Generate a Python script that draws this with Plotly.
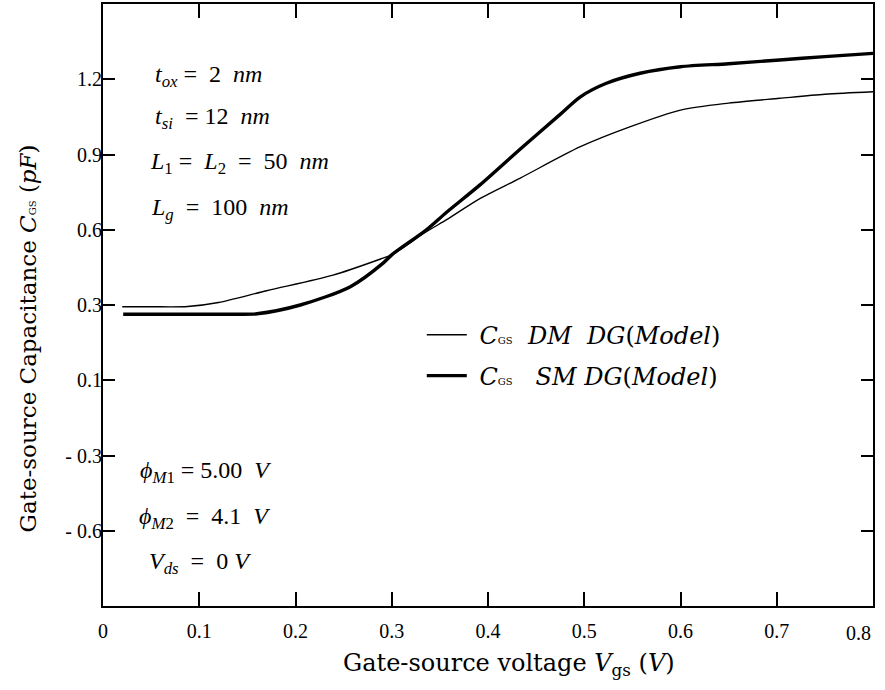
import plotly.graph_objects as go

# Thin curve: C_GS DM DG (Model)
dm_vgs = [0.02, 0.05, 0.088, 0.12, 0.17, 0.239, 0.291, 0.30, 0.336, 0.357, 0.392, 0.433,
          0.496, 0.548, 0.60, 0.65, 0.703, 0.75, 0.80]
dm_cgs = [0.293, 0.293, 0.294, 0.31, 0.357, 0.419, 0.487, 0.50, 0.592, 0.64, 0.725, 0.805,
          0.931, 1.011, 1.077, 1.105, 1.124, 1.14, 1.15]

# Thick curve: C_GS SM DG (Model)
sm_vgs = [0.021, 0.06, 0.10, 0.14, 0.16, 0.205, 0.257, 0.291, 0.30, 0.336, 0.357, 0.392,
          0.433, 0.475, 0.496, 0.523, 0.558, 0.60, 0.65, 0.703, 0.75, 0.80]
sm_cgs = [0.263, 0.263, 0.263, 0.263, 0.265, 0.30, 0.373, 0.467, 0.50, 0.60, 0.67, 0.78,
          0.92, 1.06, 1.13, 1.184, 1.224, 1.25, 1.262, 1.277, 1.29, 1.303]

x_ticks = [0, 0.1, 0.2, 0.3, 0.4, 0.5, 0.6, 0.7, 0.8]
x_ticktext = ["0", "0.1", "0.2", "0.3", "0.4", "0.5", "0.6", "0.7", ""]
x_last_label = "0.8"
y_ticks = [-0.6, -0.3, 0.0, 0.3, 0.6, 0.9, 1.2]
y_ticktext = ["- 0.6", "- 0.3", "0.1", "0.3", "0.6", "0.9", "1.2"]

FONT = "Liberation Serif"
TFONT = "DejaVu Serif"
GS = "<span style='font-size:10px'>GS</span>"

fig = go.Figure()
fig.add_trace(go.Scatter(
    x=dm_vgs, y=dm_cgs, mode="lines",
    line=dict(color="black", width=1.4, shape="spline", smoothing=0.8),
    name=f" <i>C</i>{GS}  <i>DM  DG</i>(<i>Model</i>)", legend="legend"))
fig.add_trace(go.Scatter(
    x=sm_vgs, y=sm_cgs, mode="lines",
    line=dict(color="black", width=3.4, shape="spline", smoothing=0.8),
    name=f" <i>C</i>{GS}   <i>SM DG</i>(<i>Model</i>)", legend="legend2"))

axis_common = dict(showline=True, linecolor="black", linewidth=2, mirror="ticks",
                   ticks="inside", tickcolor="black", tickwidth=1.5,
                   showgrid=False, zeroline=False, automargin=False,
                   tickfont=dict(family=FONT, size=20, color="black"))

fig.update_xaxes(range=[0, 0.8], tickvals=x_ticks, ticktext=x_ticktext, ticklen=14,
                 ticklabelstandoff=6, **axis_common)
fig.update_yaxes(range=[-0.9, 1.5], tickvals=y_ticks, ticktext=y_ticktext, ticklen=12,
                 ticklabelstandoff=-5, **axis_common)

# axis titles (placed as in the reference, slightly off-centre)
fig.add_annotation(text="Gate-source voltage <i>V</i><sub>gs</sub> (<i>V</i>)",
                   x=0.527, y=-0.098, xref="paper", yref="paper",
                   xanchor="center", yanchor="middle", showarrow=False,
                   font=dict(family=TFONT, size=24, color="black"))
fig.add_annotation(text=f"Gate-source Capacitance <i>C</i>{GS} (<i>pF</i>)",
                   x=-0.097, y=0.445, xref="paper", yref="paper", textangle=-90,
                   xanchor="center", yanchor="middle", showarrow=False,
                   font=dict(family=TFONT, size=23, color="black"))

fig.add_annotation(text=x_last_label, x=0.8, y=-0.045, xref="x", yref="paper",
                   xanchor="right", yanchor="middle", showarrow=False,
                   font=dict(family=FONT, size=20, color="black"))

annots = [
    ("<i>t</i><sub><i>ox</i></sub> =  2  <i>nm</i>", 0.065, 0.880),
    ("<i>t</i><sub><i>si</i></sub>  = 12  <i>nm</i>", 0.065, 0.810),
    ("<i>L</i><sub>1</sub> =  <i>L</i><sub>2</sub>  =  50  <i>nm</i>", 0.058, 0.736),
    ("<i>L</i><sub><i>g</i></sub>  =  100  <i>nm</i>", 0.060, 0.660),
    ("<i>ϕ</i><sub><i>M</i>1</sub> = 5.00  <i>V</i>", 0.046, 0.222),
    ("<i>ϕ</i><sub><i>M</i>2</sub>  =  4.1  <i>V</i>", 0.044, 0.147),
    ("<i>V</i><sub><i>ds</i></sub>  =  0 <i>V</i>", 0.057, 0.072),
]
for txt, ax, ay in annots:
    fig.add_annotation(text=txt, x=ax, y=ay, xref="paper", yref="paper",
                       xanchor="left", yanchor="middle", showarrow=False,
                       font=dict(family=FONT, size=24, color="black"))

legend_common = dict(xanchor="left", yanchor="middle", bgcolor="rgba(0,0,0,0)",
                     font=dict(family=TFONT, size=24, color="black"), itemwidth=40)
fig.update_layout(
    width=885, height=690,
    margin=dict(l=103, r=12, t=4, b=84),
    paper_bgcolor="white", plot_bgcolor="white",
    showlegend=True,
    legend=dict(x=0.414, y=0.450, **legend_common),
    legend2=dict(x=0.414, y=0.382, **legend_common),
)

fig.write_html("out.html", config={"displayModeBar": False},
               post_script="document.body.style.margin='0';document.body.style.overflow='hidden';")
